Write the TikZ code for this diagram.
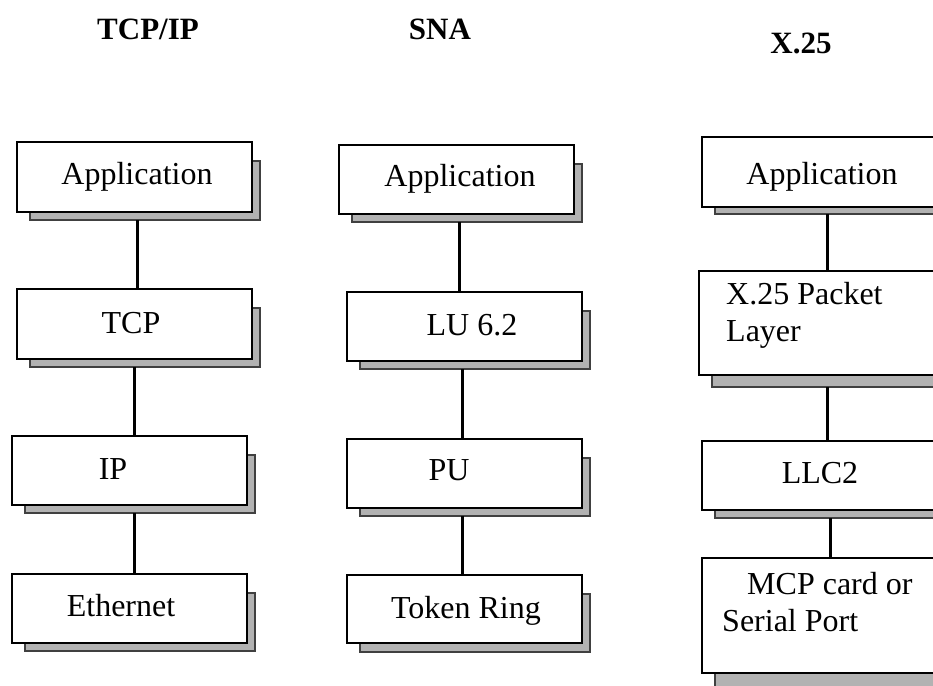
\documentclass[tikz,border=0pt]{standalone}
\usepackage{fontspec}
\setmainfont{Liberation Serif}
\begin{document}
\begin{tikzpicture}[x=1pt,y=-1pt,
  layer/.style={draw=black,line width=1.2pt,fill=white,inner sep=0pt,outer sep=0pt},
  shadowbox/.style={draw=black!75,line width=1.2pt,fill=black!30,inner sep=0pt,outer sep=0pt},
  link/.style={draw=black,line width=3pt},
  label/.style={inner sep=0pt,font=\fontsize{32}{38}\selectfont},
  title/.style={inner sep=0pt,font=\fontsize{31}{37}\selectfont\bfseries}]
\useasboundingbox (0,0) rectangle (933,685);
\clip (0,0) rectangle (933,685);
% #1 name, #2..#5 box corners (x0,y0,x1,y1), #6 depth of the shadow below the box
\newcommand\layerbox[6]{%
  \node[shadowbox,minimum width={(#4-#2-5)*1pt},minimum height={(#5-#3+#6-19)*1pt}]
    (#1sh) at ({(#2+13+#4+8)/2},{(#3+19+#5+#6)/2}) {};
  \node[layer,minimum width={(#4-#2)*1pt},minimum height={(#5-#3)*1pt}]
    (#1) at ({(#2+#4)/2},{(#3+#5)/2}) {};
}
% column titles
\node[title,anchor=base] (hTcpip) at (148,40) {TCP/IP};
\node[title,anchor=base] (hSna) at (440,40) {SNA};
\node[title,anchor=base] (hXtf) at (801,53) {X.25};

% TCP/IP stack
\layerbox{tApp}{17}{142}{252}{212}{8}
\layerbox{tTcp}{17}{289}{252}{359}{8}
\layerbox{tIp}{12}{436}{247}{505}{8}
\layerbox{tEth}{12}{574}{247}{643}{8}
\node[label,anchor=base] (tAppT) at (137,184) {Application};
\node[label,anchor=base] (tTcpT) at (131,333) {TCP};
\node[label,anchor=base] (tIpT) at (113,479) {IP};
\node[label,anchor=base] (tEthT) at (121,616) {Ethernet};
\draw[link] (137,0 |- tAppsh.south) -- (137,0 |- tTcp.north);
\draw[link] (134,0 |- tTcpsh.south) -- (134,0 |- tIp.north);
\draw[link] (134,0 |- tIpsh.south) -- (134,0 |- tEth.north);

% SNA stack
\layerbox{sApp}{339}{145}{574}{214}{8}
\layerbox{sLu}{347}{292}{582}{361}{8}
\layerbox{sPu}{347}{439}{582}{508}{8}
\layerbox{sTok}{347}{575}{582}{643}{9}
\node[label,anchor=base] (sAppT) at (460,186) {Application};
\node[label,anchor=base] (sLuT) at (472,335) {LU 6.2};
\node[label,anchor=base] (sPuT) at (449,480) {PU};
\node[label,anchor=base] (sTokT) at (466,618) {Token Ring};
\draw[link] (459,0 |- sAppsh.south) -- (459,0 |- sLu.north);
\draw[link] (462,0 |- sLush.south) -- (462,0 |- sPu.north);
\draw[link] (462,0 |- sPush.south) -- (462,0 |- sTok.north);

% X.25 stack
\layerbox{xApp}{702}{137}{937}{207}{7}
\layerbox{xPkt}{699}{271}{934}{375}{12}
\layerbox{xLlc}{702}{441}{937}{510}{8}
\layerbox{xMcp}{702}{558}{937}{673}{30}
\node[label,anchor=base] (xAppT) at (822,184) {Application};
\node[label,anchor=base west] (xPktA) at (726,304) {X.25 Packet};
\node[label,anchor=base west] (xPktB) at (726,341) {Layer};
\node[label,anchor=base] (xLlcT) at (820,483) {LLC2};
\node[label,anchor=base west] (xMcpA) at (747,594) {MCP card or};
\node[label,anchor=base west] (xMcpB) at (722,631) {Serial Port};
\draw[link] (827,0 |- xAppsh.south) -- (827,0 |- xPkt.north);
\draw[link] (827,0 |- xPktsh.south) -- (827,0 |- xLlc.north);
\draw[link] (830,0 |- xLlcsh.south) -- (830,0 |- xMcp.north);
\end{tikzpicture}
\end{document}
